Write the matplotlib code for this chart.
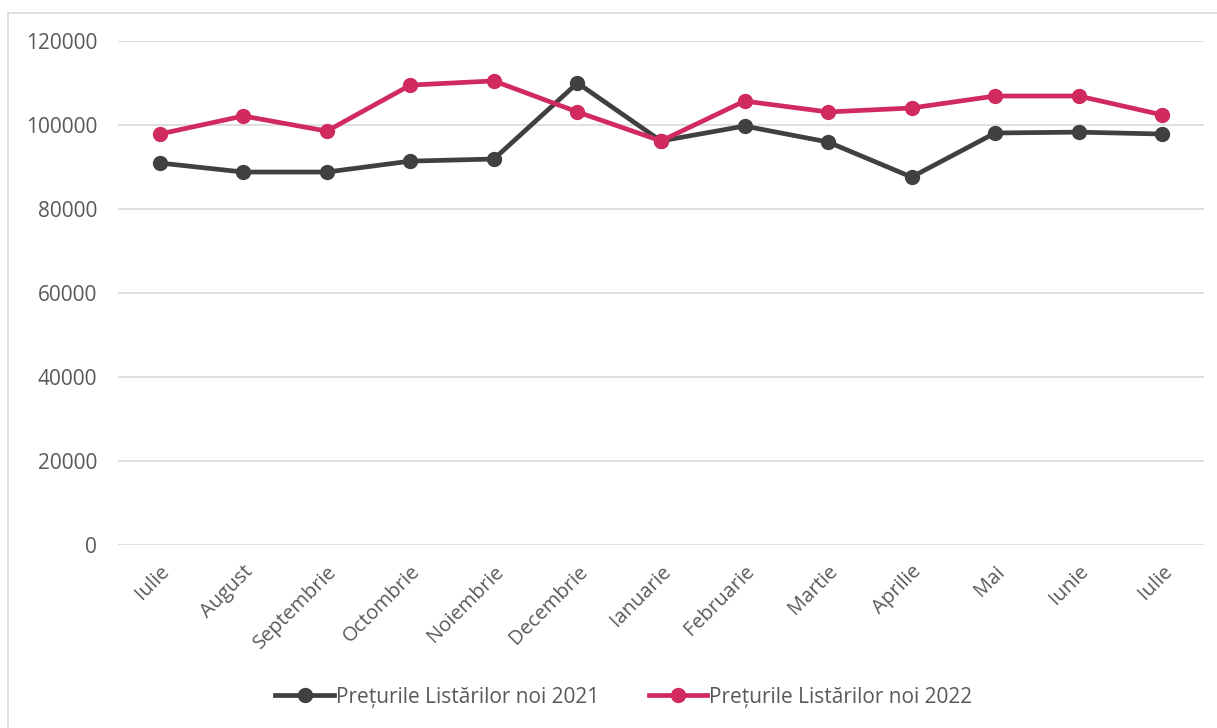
import numpy as np
import matplotlib.pyplot as plt
from matplotlib.patches import Rectangle

# Data
luni = ['Iulie', 'August', 'Septembrie', 'Octombrie', 'Noiembrie', 'Decembrie',
        'Ianuarie', 'Februarie', 'Martie', 'Aprilie', 'Mai', 'Iunie', 'Iulie']
preturi_2021 = [90950, 88800, 88800, 91400, 91900, 110000,
                96200, 99750, 95950, 87600, 98100, 98300, 97850]
preturi_2022 = [97850, 102150, 98550, 109500, 110500, 103100,
                96200, 105700, 103100, 104050, 106900, 106900, 102400]
eticheta_2021 = 'Prețurile Listărilor noi 2021'
eticheta_2022 = 'Prețurile Listărilor noi 2022'

plt.rcParams['font.family'] = ['Open Sans', 'DejaVu Sans']

fig = plt.figure(figsize=(12.17, 7.28), dpi=100)
ax = fig.add_axes([118/1217, 1-545/728, (1204-118)/1217, (545-41)/728])

# Chart border (top and left visible)
fig.patches.append(Rectangle((8/1217, -0.1), 1.2, 0.1 + (728-13)/728, transform=fig.transFigure,
                             fill=False, edgecolor='#d9d9d9', linewidth=1.2))

x = np.arange(len(luni))
ax.plot(x, preturi_2021, color='#404040', linewidth=3.4, marker='o', markersize=10,
        label=eticheta_2021, zorder=3)
ax.plot(x, preturi_2022, color='#d02a5f', linewidth=3.4, marker='o', markersize=10,
        label=eticheta_2022, zorder=3)

ax.set_xlim(-0.5, len(luni) - 0.5)
ax.set_ylim(0, 120000)
ax.set_yticks(np.arange(0, 120001, 20000))
ax.yaxis.grid(True, color='#d9d9d9', linewidth=1.2)
ax.set_axisbelow(True)
for s in ax.spines.values():
    s.set_visible(False)
ax.tick_params(axis='both', length=0, labelcolor='#595959')
ax.tick_params(axis='y', pad=15, labelsize=15)
ax.set_xticks(x)
ax.set_xticklabels(luni, rotation=45, ha='right', rotation_mode='anchor')
ax.tick_params(axis='x', pad=12, labelsize=14.5)

ax.legend(loc='center', bbox_to_anchor=(624/1217, (728-697)/728), bbox_transform=fig.transFigure,
          ncol=2, frameon=False, fontsize=15, labelcolor='#595959', handlelength=2.8,
          handletextpad=0.1, columnspacing=2.4)

fig.savefig('out.png', dpi=100)
